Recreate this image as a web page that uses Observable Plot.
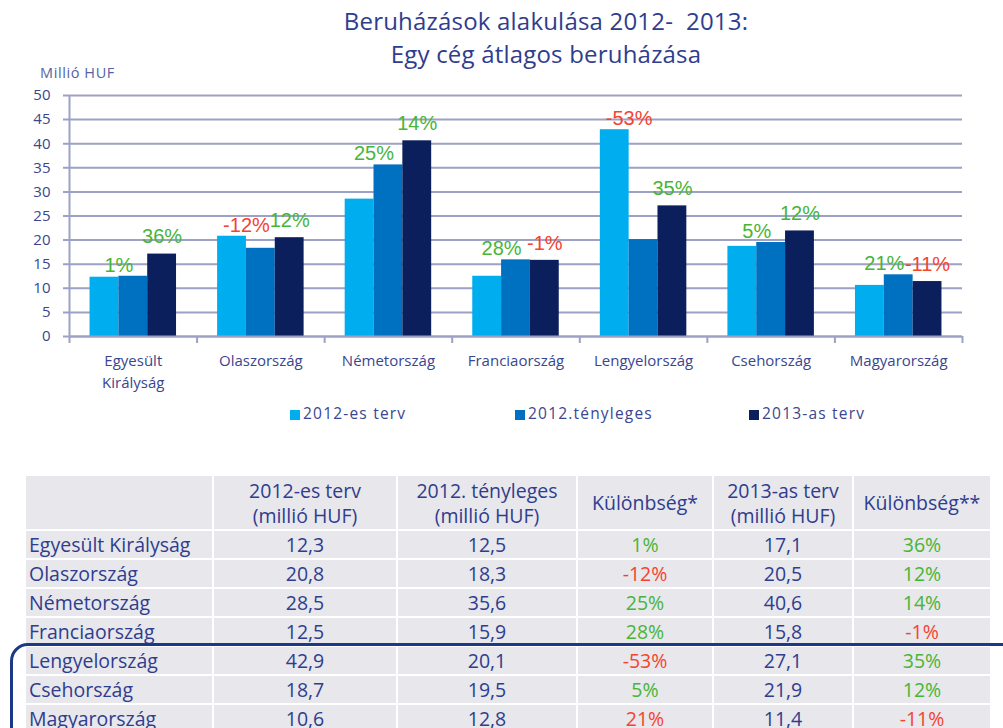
<!DOCTYPE html>
<html><head><meta charset="utf-8">
<script src="https://cdn.jsdelivr.net/npm/d3@7"></script>
<script src="https://cdn.jsdelivr.net/npm/@observablehq/plot@0.6"></script>
<style>
html,body{margin:0;padding:0;background:#fff;}
#root{position:relative;width:1003px;height:728px;overflow:hidden;font-family:"Open Sans",sans-serif;}
.title{position:absolute;left:0;width:1092px;top:4px;text-align:center;font-size:24px;line-height:33px;color:#2f3d8e;letter-spacing:0.2px;font-weight:500;}
.unit{position:absolute;left:40px;top:63px;font-size:14.5px;color:#5563a3;letter-spacing:0.6px;}
#chart{position:absolute;left:0;top:60px;}
.leg{position:absolute;top:402px;font-size:15.5px;color:#3a4690;letter-spacing:1.2px;white-space:nowrap;}
.leg i{display:inline-block;width:10px;height:10px;margin-right:3px;vertical-align:-1px;}
#tbl{position:absolute;left:24px;top:474px;border-collapse:collapse;table-layout:fixed;width:966px;color:#2f3d8e;font-size:19.5px;}
#tbl td{background:#e7e7ec;border:2px solid #fff;padding:0;text-align:center;height:27px;line-height:27px;white-space:nowrap;}
#tbl tr.h td{height:53px;line-height:25px;}
#tbl td.c{text-align:left;padding-left:3px;}
.box{position:absolute;left:10px;top:643px;width:1020px;height:150px;border:3px solid #1d3887;border-radius:18px;box-sizing:border-box;}
</style></head>
<body>
<div id="root">
  <div class="title">Beruházások alakulása 2012-&nbsp; 2013:<br>Egy cég átlagos beruházása</div>
  <div class="unit">Millió HUF</div>
  <div id="chart"></div>
  <div id="legend"></div>
  <table id="tbl"></table>
  <div class="box"></div>
</div>
<script>
// ---- data ----
const countries = ["Egyesült Királyság","Olaszország","Németország","Franciaország","Lengyelország","Csehország","Magyarország"];
const axisLabels = ["Egyesült\nKirályság","Olaszország","Németország","Franciaország","Lengyelország","Csehország","Magyarország"];
const series = ["2012-es terv","2012.tényleges","2013-as terv"];
const plan2012 = [12.3,20.8,28.5,12.5,42.9,18.7,10.6];
const actual2012 = [12.5,18.3,35.6,15.9,20.1,19.5,12.8];
const plan2013 = [17.1,20.5,40.6,15.8,27.1,21.9,11.4];
const diffActualVsPlan = ["1%","-12%","25%","28%","-53%","5%","21%"];
const diffPlan2013VsActual = ["36%","12%","14%","-1%","35%","12%","-11%"];
const yTicks = [0,5,10,15,20,25,30,35,40,45,50];
const tableHeaders = ["","2012-es terv\n(millió HUF)","2012. tényleges\n(millió HUF)","Különbség*","2013-as terv\n(millió HUF)","Különbség**"];
const tableRedOverride = ["Magyarország"]; // Különbség* shown in red in the source table

// ---- styles ----
const barColors = ["#00aeef","#0070c0","#0b1f5c"];
const gridColor = "#9da1c6";
const textColor = "#3a4690";
const green = "#48b537", red = "#f5432f";
const pctColor = s => s.trim().startsWith("-") ? red : green;

const valuesBySeries = [plan2012, actual2012, plan2013];
const bars = countries.flatMap((c, i) => valuesBySeries.map((arr, j) => ({i, j, country: c, series: series[j], value: arr[i]})));
const W = 0.226, G = (1 - 3 * W) / 2;

const labels1 = countries.map((c, i) => ({i, text: diffActualVsPlan[i], y: Math.max(plan2012[i], actual2012[i])}));
const labels2 = countries.map((c, i) => ({i, text: diffPlan2013VsActual[i], y: plan2013[i]}));

const chart = Plot.plot({
  width: 1003, height: 340,
  marginTop: 35, marginBottom: 64, marginLeft: 69, marginRight: 41,
  x: {domain: [0, 7], axis: null},
  y: {domain: [0, 50], axis: null},
  color: {domain: series, range: barColors},
  style: {background: "transparent", fontFamily: "'Open Sans', sans-serif"},
  marks: [
    Plot.ruleY(yTicks, {y: d => d, x1: 0, x2: 7, insetLeft: -6, stroke: gridColor, strokeWidth: 2}),
    Plot.rect(bars, {x1: d => d.i + G + d.j * W, x2: d => d.i + G + (d.j + 1) * W, y1: 0, y2: "value", fill: "series"}),
    Plot.ruleX([0], {x: d => d, y1: 50, y2: 0, insetBottom: -7, stroke: gridColor, strokeWidth: 2}),
    Plot.ruleX(d3.range(1, 8), {x: d => d, y1: 0, y2: 0, insetBottom: -7, stroke: gridColor, strokeWidth: 2}),
    Plot.ruleY([0], {y: d => d, x1: 0, x2: 7, stroke: gridColor, strokeWidth: 2}),
    Plot.text(yTicks, {x: 0, y: d => d, text: d => String(d), textAnchor: "end", dx: -19, fontSize: 15, fill: textColor}),
    Plot.text(countries, {x: (d, i) => i + 0.5, y: 0, text: (d, i) => axisLabels[i], lineAnchor: "top", dy: 14, lineHeight: 1.45, fontSize: 15, fill: textColor, letterSpacing: 1.9}),
    Plot.text(labels1, {x: d => d.i + G + W, y: "y", text: "text", dy: -11, fontSize: 20, fontFamily: "'Liberation Sans', Arial, sans-serif", fill: d => pctColor(d.text)}),
    Plot.text(labels2, {x: d => d.i + G + 2.5 * W, y: "y", text: "text", dy: -17, fontSize: 20, fontFamily: "'Liberation Sans', Arial, sans-serif", fill: d => pctColor(d.text)})
  ]
});
document.getElementById("chart").appendChild(chart);

// ---- legend ----
const legendX = [290, 515, 749];
const legend = document.getElementById("legend");
series.forEach((s, j) => {
  const d = document.createElement("div");
  d.className = "leg";
  d.style.left = legendX[j] + "px";
  d.innerHTML = `<i style="background:${barColors[j]}"></i>${s}`;
  legend.appendChild(d);
});

// ---- table ----
const tbl = document.getElementById("tbl");
const colW = [188, 184, 180, 136, 140, 138];
const cg = document.createElement("colgroup");
colW.forEach(w => { const c = document.createElement("col"); c.style.width = w + "px"; cg.appendChild(c); });
tbl.appendChild(cg);
const hr = document.createElement("tr"); hr.className = "h";
tableHeaders.forEach(h => { const td = document.createElement("td"); td.innerHTML = h.replace("\n", "<br>"); hr.appendChild(td); });
tbl.appendChild(hr);
const fmt = v => v.toFixed(1).replace(".", ",");
countries.forEach((c, i) => {
  const tr = document.createElement("tr");
  const cells = [
    [c, null, "c"],
    [fmt(plan2012[i]), null],
    [fmt(actual2012[i]), null],
    [diffActualVsPlan[i], tableRedOverride.includes(c) ? red : pctColor(diffActualVsPlan[i])],
    [fmt(plan2013[i]), null],
    [diffPlan2013VsActual[i], pctColor(diffPlan2013VsActual[i])]
  ];
  cells.forEach(([t, col, cls]) => {
    const td = document.createElement("td");
    td.textContent = t;
    if (col) td.style.color = col;
    if (cls) td.className = cls;
    tr.appendChild(td);
  });
  tbl.appendChild(tr);
});
</script>
</body></html>
